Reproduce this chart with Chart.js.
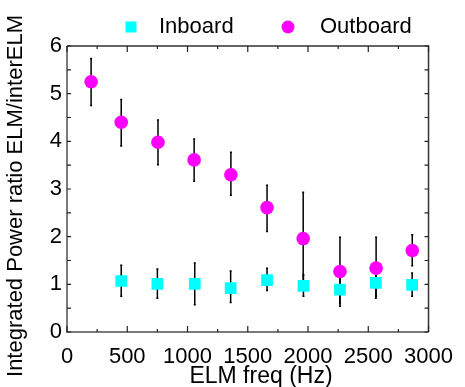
<!DOCTYPE html>
<html>
<head>
<meta charset="utf-8">
<script src="https://cdn.jsdelivr.net/npm/chart.js@4.4.0/dist/chart.umd.min.js"></script>
<style>
  html, body { margin: 0; padding: 0; background: #fff; }
  #wrap { width: 465px; height: 387px; position: relative; }
</style>
</head>
<body>
<div id="wrap"><canvas id="c" width="465" height="387"></canvas></div>
<script>
// ---- data ----
const outFreq = [200, 450, 755, 1055, 1360, 1660, 1960, 2265, 2565, 2865];
const outVal  = [5.25, 4.40, 3.98, 3.61, 3.30, 2.61, 1.96, 1.27, 1.34, 1.71];
const outHi   = [5.74, 4.88, 4.45, 4.05, 3.77, 3.08, 2.93, 1.99, 1.99, 2.04];
const outLo   = [4.75, 3.90, 3.51, 3.16, 2.87, 2.11, 1.00, 0.60, 0.75, 1.39];

const inFreq = [450, 750, 1060, 1358, 1660, 1962, 2265, 2563, 2864];
const inVal  = [1.07, 1.01, 1.01, 0.92, 1.09, 0.97, 0.89, 1.03, 0.99];
const inHi   = [1.40, 1.32, 1.45, 1.28, 1.34, 1.20, 1.25, 1.30, 1.24];
const inLo   = [0.75, 0.71, 0.57, 0.62, 0.87, 0.75, 0.54, 0.71, 0.75];

const xTicks = [0, 500, 1000, 1500, 2000, 2500, 3000];
const yTicks = [0, 1, 2, 3, 4, 5, 6];
const seriesNames = ['Inboard', 'Outboard'];
const xTitle = 'ELM freq (Hz)';
const yTitle = 'Integrated Power ratio ELM/interELM';

const FONT = '"Liberation Sans", Arial, Helvetica, sans-serif';

const errorBars = [
  {x: inFreq, hi: inHi, lo: inLo},
  {x: outFreq, hi: outHi, lo: outLo}
];

const framePlugin = {
  id: 'frame',
  beforeDatasetsDraw(chart) {
    const {ctx} = chart;
    const xs = chart.scales.x, ys = chart.scales.y;
    ctx.save();
    ctx.strokeStyle = '#000';
    ctx.lineWidth = 1.5;
    errorBars.forEach(eb => {
      eb.x.forEach((f, i) => {
        const px = xs.getPixelForValue(f);
        const p1 = ys.getPixelForValue(eb.hi[i]);
        const p2 = ys.getPixelForValue(eb.lo[i]);
        ctx.beginPath();
        ctx.moveTo(px, p1); ctx.lineTo(px, p2);
        ctx.stroke();
        ctx.beginPath();
        ctx.moveTo(px - 1, p1); ctx.lineTo(px + 1, p1);
        ctx.moveTo(px - 1, p2); ctx.lineTo(px + 1, p2);
        ctx.stroke();
      });
    });
    ctx.restore();
  },
  afterDatasetsDraw(chart) {
    const {ctx, chartArea: a} = chart;
    const xs = chart.scales.x, ys = chart.scales.y;
    ctx.save();
    // frame
    ctx.strokeStyle = '#7a7a7a';
    ctx.lineWidth = 2;
    ctx.beginPath();
    ctx.moveTo(a.left, a.top); ctx.lineTo(a.left, a.bottom); ctx.lineTo(a.right, a.bottom);
    ctx.stroke();
    ctx.strokeStyle = '#333';
    ctx.lineWidth = 1.5;
    ctx.beginPath();
    ctx.moveTo(a.left, a.top); ctx.lineTo(a.right, a.top); ctx.lineTo(a.right, a.bottom);
    ctx.stroke();
    // ticks inward
    ctx.strokeStyle = '#222';
    ctx.lineWidth = 1.2;
    ctx.beginPath();
    for (let v = 0; v <= 3000; v += 250) {
      const px = xs.getPixelForValue(v);
      const len = (v % 500 === 0) ? 6 : 3;
      ctx.moveTo(px, a.bottom); ctx.lineTo(px, a.bottom - len);
      ctx.moveTo(px, a.top); ctx.lineTo(px, a.top + len);
    }
    for (let v = 0; v <= 6; v += 0.5) {
      const py = ys.getPixelForValue(v);
      ctx.moveTo(a.left, py); ctx.lineTo(a.left + 4, py);
      ctx.moveTo(a.right, py); ctx.lineTo(a.right - 4, py);
    }
    ctx.stroke();
    // x title
    ctx.fillStyle = '#000';
    ctx.font = '23px ' + FONT;
    ctx.textAlign = 'center';
    ctx.textBaseline = 'middle';
    ctx.fillText(xTitle, 261, 377);
    // y title
    ctx.translate(16, 196);
    ctx.rotate(-Math.PI / 2);
    ctx.font = '22px ' + FONT;
    ctx.fillText(yTitle, 0, 0);
    ctx.restore();
    // legend
    ctx.save();
    const ds = chart.data.datasets;
    const legendItems = [
      {x: 131, tx: 159, ds: ds[0]},
      {x: 288, tx: 320, ds: ds[1]}
    ];
    legendItems.forEach(it => {
      ctx.fillStyle = it.ds.backgroundColor;
      ctx.beginPath();
      if (it.ds.pointStyle === 'rect') ctx.rect(it.x - 5.5, 21.5, 11, 11);
      else ctx.arc(it.x, 27, 6.5, 0, Math.PI * 2);
      ctx.fill();
      ctx.fillStyle = '#000';
      ctx.font = '22px ' + FONT;
      ctx.textAlign = 'left';
      ctx.textBaseline = 'middle';
      ctx.fillText(it.ds.label, it.tx, 27);
    });
    ctx.restore();
  }
};

new Chart(document.getElementById('c'), {
  type: 'scatter',
  data: {
    datasets: [
      {
        label: seriesNames[0],
        data: inFreq.map((f, i) => ({x: f, y: inVal[i]})),
        pointStyle: 'rect',
        pointRadius: 8.3,
        backgroundColor: '#00ffff',
        borderColor: '#00ffff',
        pointBackgroundColor: '#00ffff',
        pointBorderWidth: 0,
        borderWidth: 0
      },
      {
        label: seriesNames[1],
        data: outFreq.map((f, i) => ({x: f, y: outVal[i]})),
        pointStyle: 'circle',
        pointRadius: 6.8,
        backgroundColor: '#ff00ff',
        borderColor: '#ff00ff',
        pointBackgroundColor: '#ff00ff',
        pointBorderWidth: 0,
        borderWidth: 0
      }
    ]
  },
  options: {
    responsive: false,
    animation: false,
    layout: { padding: {top: 46, right: 28, left: 0, bottom: 0} },
    plugins: { legend: {display: false}, tooltip: {enabled: false}, title: {display: false} },
    scales: {
      x: {
        type: 'linear', min: 0, max: 3000,
        afterFit(s) { s.height = 55; },
        afterBuildTicks(s) { s.ticks = xTicks.map(v => ({value: v})); },
        grid: { display: false, drawTicks: false },
        border: { display: false },
        ticks: { color: '#000', font: {size: 22, family: FONT}, padding: 12, maxRotation: 0, autoSkip: false,
                 callback: v => String(v) }
      },
      y: {
        type: 'linear', min: 0, max: 6,
        afterFit(s) { s.width = 67; },
        afterBuildTicks(s) { s.ticks = yTicks.map(v => ({value: v})); },
        grid: { display: false, drawTicks: false },
        border: { display: false },
        ticks: { color: '#000', font: {size: 22, family: FONT}, padding: 5, autoSkip: false,
                 callback: v => String(v) }
      }
    }
  },
  plugins: [framePlugin]
});
</script>
</body>
</html>
